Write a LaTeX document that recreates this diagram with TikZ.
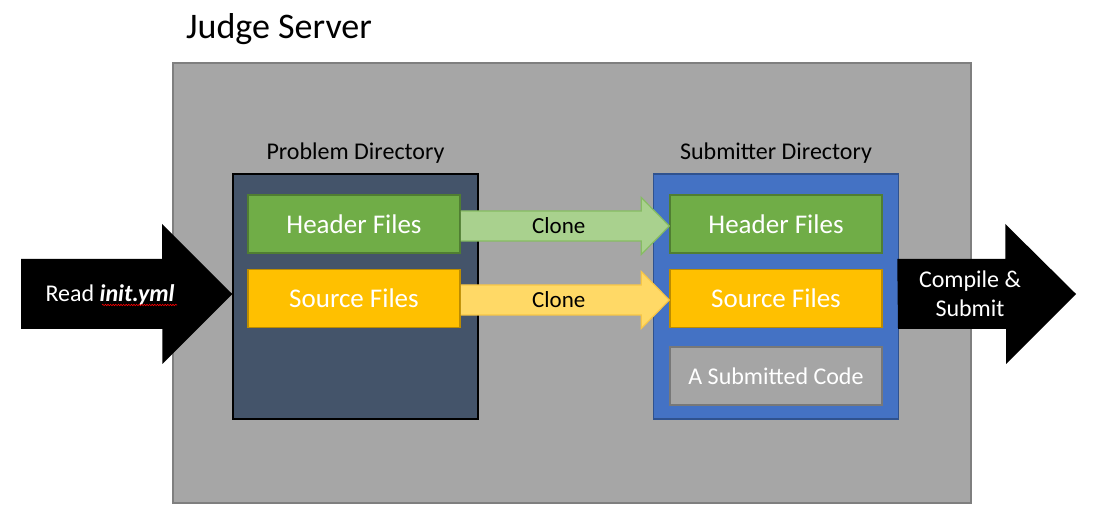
\documentclass[tikz,border=0pt]{standalone}
\usepackage{fontspec}
\setmainfont{Carlito}
\usetikzlibrary{decorations.pathmorphing}

\definecolor{servergray}{HTML}{A6A6A6}
\definecolor{serverline}{HTML}{7F7F7F}
\definecolor{probfill}{HTML}{44546A}
\definecolor{subfill}{HTML}{4472C4}
\definecolor{subline}{HTML}{2F528F}
\definecolor{hdrfill}{HTML}{70AD47}
\definecolor{hdrline}{HTML}{507E32}
\definecolor{srcfill}{HTML}{FFC000}
\definecolor{srcline}{HTML}{BC8C00}
\definecolor{codefill}{HTML}{A5A5A5}
\definecolor{codeline}{HTML}{787878}
\definecolor{clonegfill}{HTML}{A9D18E}
\definecolor{clonegline}{HTML}{86BC62}
\definecolor{cloneyfill}{HTML}{FFD966}
\definecolor{cloneyline}{HTML}{F7C646}

\tikzset{
  serverbox/.style={draw=serverline,fill=servergray,line width=2pt,
    minimum width=798pt,minimum height=440pt,inner sep=0pt},
  dirbox/.style={line width=1.5pt,minimum width=245pt,minimum height=245pt,inner sep=0pt},
  filebox/.style={line width=1.5pt,minimum width=212pt,minimum height=58pt,inner sep=0pt,
    text=white,font=\fontsize{27}{32}\selectfont},
  dirlabel/.style={anchor=base,font=\fontsize{24}{29}\selectfont},
  clonetext/.style={anchor=base,font=\fontsize{23}{28}\selectfont},
  bigarrow/.style={fill=black},
  arrowtext/.style={text=white,align=center,font=\fontsize{24}{29}\selectfont},
  squiggle/.style={draw=red,line width=0.6pt,decorate,
    decoration={snake,amplitude=0.7pt,segment length=2.6pt}}
}

\begin{document}
\begin{tikzpicture}[x=1pt,y=1pt]
\useasboundingbox (0,0) rectangle (1108,522);

\node[serverbox] (server) at (572,239) {};
\node[anchor=base,font=\fontsize{36}{43}\selectfont] (judge) at (279,483) {Judge Server};

% the two directories
\node[dirbox,draw=black,fill=probfill] (probdir) at (355.5,225.5) {};
\node[dirbox,draw=subline,fill=subfill] (subdir) at (776,225.5) {};
\node[dirlabel] (problabel) at (probdir.north |- 0,362) {Problem Directory};
\node[dirlabel] (sublabel) at (subdir.north |- 0,362) {Submitter Directory};

\node[filebox,draw=hdrline,fill=hdrfill] (ph) at (354,298) {Header Files};
\node[filebox,draw=srcline,fill=srcfill] (ps) at (354,223.5) {Source Files};
\node[filebox,draw=hdrline,fill=hdrfill] (sh) at (776,298) {Header Files};
\node[filebox,draw=srcline,fill=srcfill] (ss) at (776,223.5) {Source Files};
\node[filebox,draw=codeline,fill=codefill,font=\fontsize{24}{29}\selectfont] (code) at (776,146) {A Submitted Code};

% clone arrows, left side left open so it is not stroked
\path[fill=clonegfill,draw=clonegline,line width=1.2pt]
  ([yshift=-17pt]ph.east) -- ([shift={(-28pt,-17pt)}]sh.west)
  -- ([shift={(-28pt,-30.5pt)}]sh.west) -- ([yshift=-2pt]sh.west)
  -- ([shift={(-28pt,26.5pt)}]sh.west) -- ([shift={(-28pt,13pt)}]sh.west)
  -- ([yshift=13pt]ph.east);
\node[clonetext] (clone1) at ([shift={(98pt,-10pt)}]ph.east) {Clone};
\path[fill=cloneyfill,draw=cloneyline,line width=1.2pt]
  ([yshift=-16.5pt]ps.east) -- ([shift={(-28pt,-16.5pt)}]ss.west)
  -- ([shift={(-28pt,-30pt)}]ss.west) -- ([yshift=-1.5pt]ss.west)
  -- ([shift={(-28pt,27pt)}]ss.west) -- ([shift={(-28pt,13.5pt)}]ss.west)
  -- ([yshift=13.5pt]ps.east);
\node[clonetext] (clone2) at ([shift={(98pt,-9.5pt)}]ps.east) {Clone};

% input and output
\coordinate (readin) at (21,228);
\fill[bigarrow] (readin) ++(0,35) -- ++(141,0) -- ++(0,35) -- (readin -| probdir.west)
  -- ++(-70,-70) -- ++(0,35) -- ++(-141,0) -- cycle;
\node[arrowtext,anchor=base] (read) at (110,220) {Read \textbf{\textit{init.yml}}};
\path[squiggle] ([shift={(-76pt,-3pt)}]read.base east) -- ([shift={(-1pt,-3pt)}]read.base east);

\coordinate (submit) at (1076,228);
\fill[bigarrow] ([xshift=-2pt]subdir.east |- submit) ++(0,35) -- ++(108,0) -- ++(0,35) -- (submit)
  -- ++(-70,-70) -- ++(0,35) -- ++(-108,0) -- cycle;
\node[arrowtext] (compile) at (970,228) {Compile \&\\Submit};
\end{tikzpicture}
\end{document}
